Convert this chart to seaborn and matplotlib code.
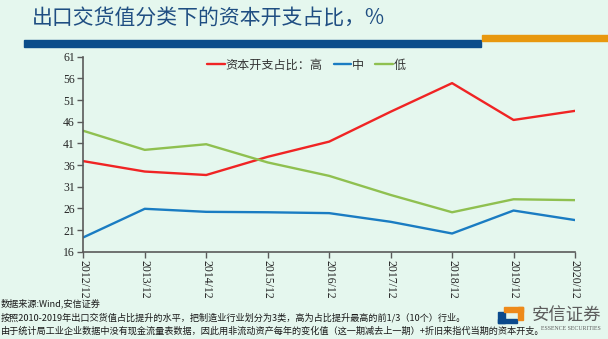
import matplotlib
matplotlib.use("Agg")
import matplotlib.pyplot as plt
import seaborn as sns
import pandas as pd
from matplotlib.patches import Rectangle
from matplotlib.lines import Line2D

# Data: share of capital expenditure by export-delivery-value group (%)
periods = ["2012/12", "2013/12", "2014/12", "2015/12", "2016/12",
           "2017/12", "2018/12", "2019/12", "2020/12"]
high = [36.9, 34.5, 33.7, 37.9, 41.4, 48.3, 54.9, 46.4, 48.5]
mid = [19.3, 25.9, 25.2, 25.1, 24.9, 22.9, 20.2, 25.5, 23.3]
low = [43.9, 39.5, 40.8, 36.6, 33.5, 29.1, 25.1, 28.1, 27.9]
series_names = ["资本开支占比：高", "中", "低"]
series_colors = ["#f02424", "#1a7cc2", "#8fc050"]
y_ticks = [16, 21, 26, 31, 36, 41, 46, 51, 56, 61]

title = "出口交货值分类下的资本开支占比，%"
notes = [
    "数据来源:Wind,安信证券",
    "按照2010-2019年出口交货值占比提升的水平，把制造业行业划分为3类，高为占比提升最高的前1/3（10个）行业。",
    "由于统计局工业企业数据中没有现金流量表数据，因此用非流动资产每年的变化值（这一期减去上一期）+折旧来指代当期的资本开支。",
]

df = pd.DataFrame({
    "x": list(range(len(periods))) * 3,
    "value": high + mid + low,
    "group": [series_names[0]] * len(periods)
    + [series_names[1]] * len(periods)
    + [series_names[2]] * len(periods),
})

bg = "#e5f7ee"
sns.set_theme(style="white")
plt.rcParams["font.family"] = ["Noto Sans CJK SC", "DejaVu Sans"]

W, H = 608, 339
fig = plt.figure(figsize=(W / 100, H / 100), dpi=100, facecolor=bg)


def fx(px):
    return px / W


def fy(py):
    return 1 - py / H


ax = fig.add_axes([fx(83.3), fy(251.7), fx(575) - fx(83.3), fy(56.7) - fy(251.7)])
ax.set_facecolor(bg)

sns.lineplot(data=df, x="x", y="value", hue="group", hue_order=series_names,
             palette=series_colors, linewidth=1.7, ax=ax, legend=False)

ax.set_xlim(0, len(periods) - 1)
ax.set_ylim(16, 61)
ax.set_yticks(y_ticks)
ax.set_xticks(range(len(periods)))
ax.set_xticklabels(periods, rotation=-90, va="top", ha="center")
ax.set_xlabel("")
ax.set_ylabel("")

for s in ["top", "right"]:
    ax.spines[s].set_visible(False)
for s in ["left", "bottom"]:
    ax.spines[s].set_color("#5a5a5a")
    ax.spines[s].set_linewidth(1.2)
ax.tick_params(axis="both", which="major", direction="out", length=4,
               width=1.0, color="#5a5a5a", labelcolor="#262626",
               pad=2, left=True, bottom=True)
ax.tick_params(axis="y", labelsize=8.4)
ax.tick_params(axis="x", labelsize=8.5)
for lab in ax.get_xticklabels() + ax.get_yticklabels():
    lab.set_family(["Liberation Serif", "DejaVu Serif"])

# legend
handles = [Line2D([0], [0], color=c, lw=1.7) for c in series_colors]
leg = fig.legend(handles, series_names, loc="center left",
                 bbox_to_anchor=(fx(207), fy(65)), ncol=3, frameon=False,
                 borderpad=0, borderaxespad=0, handlelength=1.45,
                 handletextpad=0.1, columnspacing=0.9,
                 prop={"family": ["Noto Sans CJK SC", "DejaVu Sans"], "size": 8.7})
for t in leg.get_texts():
    t.set_color("#333333")

# title and header bars
fig.text(fx(32), fy(18), title, fontsize=15, color="#1f4e82",
         va="center", ha="left")
fig.patches.append(Rectangle((fx(24), fy(46.7)), fx(481) - fx(24), fy(40) - fy(46.7),
                             transform=fig.transFigure, color="#0b4d8a", zorder=1))
fig.patches.append(Rectangle((fx(482), fy(40.7)), fx(608) - fx(482), fy(34.7) - fy(40.7),
                             transform=fig.transFigure, color="#e8980e", zorder=1))

# footnotes
for ypx, txt in zip([303, 317.5, 331], notes):
    fig.text(fx(0.5), fy(ypx), txt, fontsize=6.6, color="#1a1a1a",
             va="center", ha="left", fontweight="medium")

# logo
logo_blue, logo_orange = "#0b4a8c", "#ee8a1a"
fig.patches.append(Rectangle((fx(498), fy(323)), fx(505) - fx(498), fy(312) - fy(323),
                             transform=fig.transFigure, color=logo_blue, zorder=2))
fig.patches.append(Rectangle((fx(498), fy(323)), fx(517) - fx(498), fy(319) - fy(323),
                             transform=fig.transFigure, color=logo_blue, zorder=2))
fig.patches.append(Rectangle((fx(504), fy(312)), fx(523) - fx(504), fy(307) - fy(312),
                             transform=fig.transFigure, color=logo_orange, zorder=2))
fig.patches.append(Rectangle((fx(518), fy(320)), fx(523) - fx(518), fy(307) - fy(320),
                             transform=fig.transFigure, color=logo_orange, zorder=2))
fig.text(fx(532), fy(316), "安信证券", fontsize=12.5, color="#5c5c5c",
         va="center", ha="left")
fig.text(fx(541), fy(329), "ESSENCE SECURITIES", fontsize=4.2, color="#5c5c5c",
         va="center", ha="left", family=["Liberation Serif", "DejaVu Serif"])

fig.savefig("out.png", dpi=100, facecolor=bg)
